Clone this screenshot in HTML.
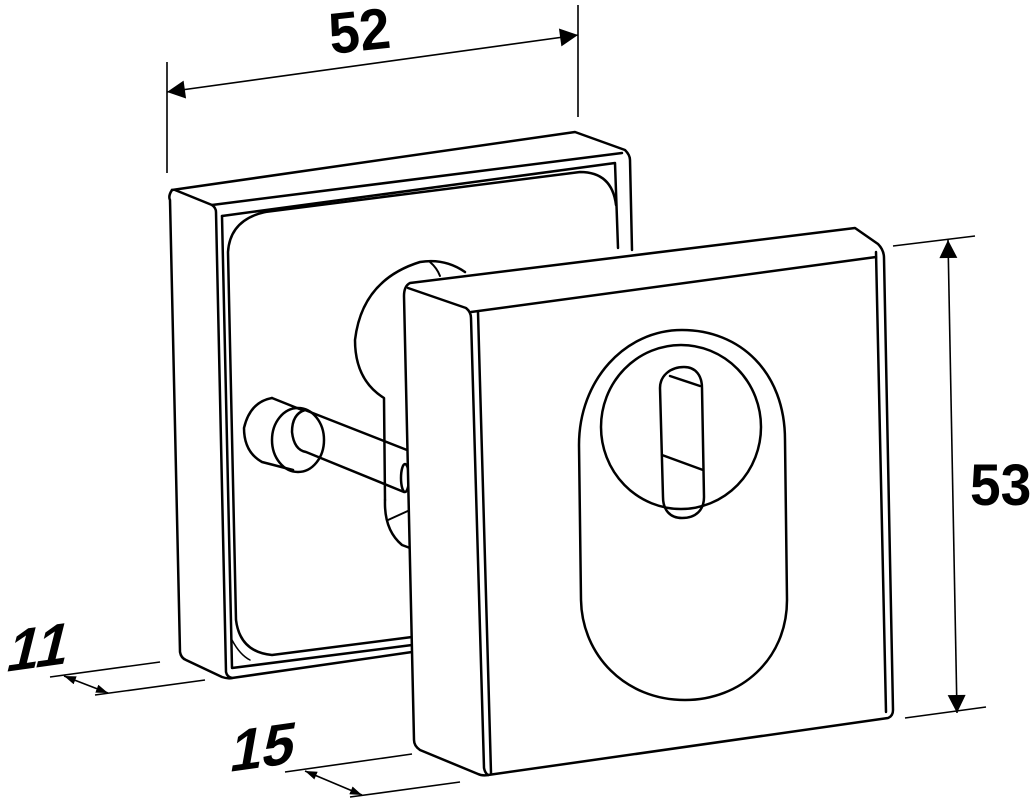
<!DOCTYPE html>
<html><head><style>html,body{margin:0;padding:0;background:#fff}svg{display:block}</style></head>
<body>
<svg width="1035" height="800" viewBox="0 0 1035 800" xmlns="http://www.w3.org/2000/svg">
<defs>
<marker id="a" viewBox="0 0 10 10" refX="10" refY="5" markerWidth="12" markerHeight="12" markerUnits="userSpaceOnUse" orient="auto-start-reverse"><path d="M0,1.5 L10,5 L0,8.5z" fill="#000"/></marker>
<marker id="b" viewBox="0 0 10 10" refX="10" refY="5" markerWidth="44" markerHeight="18" markerUnits="userSpaceOnUse" orient="auto-start-reverse"><path d="M0,0 L10,5 L0,10z" fill="#000"/></marker>
</defs>
<g fill="none" stroke="#000" stroke-width="2.5" stroke-linejoin="round" stroke-linecap="round">
<!-- back plate -->
<path d="M172,190 Q168,196 170,200 L180,652 Q181,658 186,660 L222,677 Q228,679 232,678 L412,652"/>
<path d="M172,190 L575,132 L625,150 Q630,155 630,160 L632,250"/>
<path d="M175,190 L212,205 L622,153"/>
<path d="M212,205 Q216,208 216,212 L226,672 Q227,677 232,678"/>
<path d="M222,216 L615,163 L618,248"/>
<path d="M222,216 L232,668 L412,645"/>
<path d="M265,212 L580,172 Q612,172 616,205"/>
<path d="M265,212 Q230,220 228,252 L236,620 Q240,652 272,655 L412,637"/>
<path d="M232,640 Q240,655 250,660" stroke-width="1.5"/>
<!-- rosette behind -->
<path d="M465,272 Q445,258 420,262 Q362,280 355,340 Q355,380 384,398 L385,500"/>
<path d="M385,500 Q384,530 402,545 L410,548"/>
<path d="M430,262 Q437,268 440,276" stroke-width="2"/>
<path d="M388,520 L410,510" stroke-width="2"/>
<ellipse cx="405" cy="478" rx="4" ry="14"/>
<!-- spindle -->
<path d="M272,398 Q250,402 244,428 Q244,452 262,462 L293,470"/>
<path d="M272,398 L302,410"/>
<ellipse cx="298" cy="440" rx="26" ry="32"/>
<path d="M305,410 Q292,414 292,432 Q294,450 306,452 L404,492"/>
<path d="M305,410 L407,450"/>
<!-- front box -->
<path d="M410,283 L855,228 L878,244 Q884,250 884,258 L893,710 Q893,716 888,718 L488,775 Q482,776 478,774 L420,750 Q414,746 414,740 L404,296 Q404,286 410,283z" fill="#fff"/>
<path d="M408,288 L466,308 Q471,312 471,318 L484,768 Q485,773 488,775"/>
<path d="M471,312 L876,257"/>
<path d="M478,312 L491,773"/>
<path d="M876,252 L886,712"/>
<!-- escutcheon -->
<path d="M682,330 C740,330 785,372 785,440 L787,600 C787,660 740,700 685,700 C625,700 582,655 581,600 L579,445 C579,380 625,330 682,330z"/>
<ellipse cx="681" cy="427" rx="80" ry="82"/>
<path d="M684,367 C696,367 702,376 702,388 L704,497 C704,510 696,518 682,518 C670,518 663,510 663,497 L660,388 C660,376 670,367 684,367z"/>
<path d="M670,376 L700,386 M662,455 L703,470"/>
</g>
<!-- dimensions -->
<g stroke="#000" fill="none" stroke-width="1.6">
<path d="M167,62 L167,173 M578,5 L578,117"/>
<path d="M167,92 L578,35" marker-start="url(#b)" marker-end="url(#b)"/>
<path d="M893,246 L975,236 M905,718 L986,707"/>
<path d="M948,240 L957,713" marker-start="url(#b)" marker-end="url(#b)"/>
<path d="M50,677 L160,662 M95,695 L205,680"/>
<path d="M64,676 L108,693" marker-start="url(#a)" marker-end="url(#a)"/>
<path d="M285,772 L412,754 M350,797 L460,782"/>
<path d="M305,771 L362,795" marker-start="url(#a)" marker-end="url(#a)"/>
</g>
<g font-family="Liberation Sans, sans-serif" font-weight="bold" fill="#000">
<text x="0" y="0" font-size="58" transform="translate(331,54) rotate(-6) scale(0.95,1)">52</text>
<text x="0" y="0" font-size="58" transform="translate(970,505) scale(0.95,1)">53</text>
<text x="0" y="0" font-size="58" transform="translate(4,672) rotate(-8) skewX(-22)">11</text>
<text x="0" y="0" font-size="58" transform="translate(228,772) rotate(-8) skewX(-18)">15</text>
</g>
</svg>
</body></html>
